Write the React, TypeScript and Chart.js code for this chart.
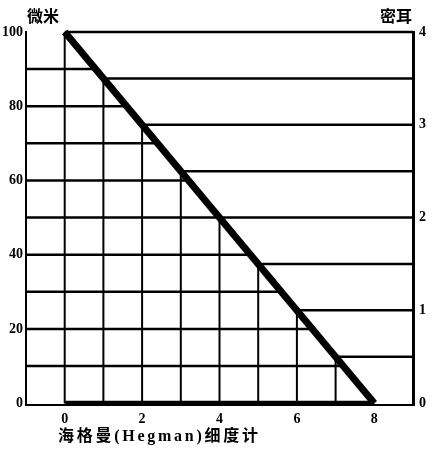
import React, { useEffect, useRef } from "react";
import { Chart, registerables } from "chart.js";

Chart.register(...registerables);

// Axis ticks
const hegmanTicks = [0, 2, 4, 6, 8];
const micronTicks = [0, 20, 40, 60, 80, 100];
const milTicks = [0, 1, 2, 3, 4];

// Gauge line: Hegman 0 -> 100 µm, Hegman 8 -> 0 µm
const gaugeHegman = [0, 8];
const gaugeMicron = [100, 0];

// Vertical stops (Hegman value and depth in µm at that value)
const hegmanStops = [0, 1, 2, 3, 4, 5, 6, 7];
const micronStops = [100, 87.5, 75, 62.5, 50, 37.5, 25, 12.5];

// Horizontal guide lines
const micronGrid = [90, 80, 70, 60, 50, 40, 30, 20, 10];
const milGrid = [4, 3.5, 3, 2.5, 2, 1.5, 1, 0.5];

const labels = {
  left: "微米",
  right: "密耳",
  x: "海格曼(Hegman)细度计",
};

const SERIF = "'Liberation Serif', 'DejaVu Serif', 'Noto Sans CJK SC', serif";

function hegmanAtMicron(v: number) {
  return 8 - v / 12.5;
}

export default function App() {
  const ref = useRef<HTMLCanvasElement | null>(null);

  useEffect(() => {
    if (!ref.current) return;
    const base = {
      borderColor: "#000",
      pointRadius: 0,
      showLine: true,
      fill: false,
      clip: false as any,
      tension: 0,
    };
    const datasets: any[] = [];
    datasets.push({
      ...base,
      data: gaugeHegman.map((h, i) => ({ x: h, y: gaugeMicron[i] })),
      borderWidth: 7,
      yAxisID: "y",
    });
    datasets.push({
      ...base,
      data: [
        { x: gaugeHegman[0], y: 0 },
        { x: gaugeHegman[1], y: 0 },
      ],
      borderWidth: 5,
      yAxisID: "y",
    });
    hegmanStops.forEach((h, i) => {
      datasets.push({
        ...base,
        data: [
          { x: h, y: 0 },
          { x: h, y: micronStops[i] },
        ],
        borderWidth: 2,
        yAxisID: "y",
      });
    });
    micronGrid.forEach((v) => {
      datasets.push({
        ...base,
        data: [
          { x: -1, y: v },
          { x: hegmanAtMicron(v), y: v },
        ],
        borderWidth: 2.5,
        yAxisID: "y",
      });
    });
    milGrid.forEach((m) => {
      datasets.push({
        ...base,
        data: [
          { x: 8 - 2 * m, y: m },
          { x: 9, y: m },
        ],
        borderWidth: 2.5,
        yAxisID: "y1",
      });
    });

    const textPlugin = {
      id: "texts",
      afterDraw(chart: any) {
        const ctx = chart.ctx as CanvasRenderingContext2D;
        ctx.save();
        ctx.fillStyle = "#000";
        ctx.textBaseline = "middle";
        ctx.font = "bold 16px 'Noto Sans CJK SC', sans-serif";
        ctx.textAlign = "center";
        ctx.fillText(labels.left, 43, 16);
        ctx.fillText(labels.right, 396, 16);
        ctx.font = "bold 16px " + SERIF;
        ctx.textAlign = "left";
        const target = 200;
        const n = [...labels.x].length;
        const w = ctx.measureText(labels.x).width;
        const ls = Math.max(0, (target - w) / (n - 1));
        (ctx as any).letterSpacing = ls + "px";
        ctx.fillText(labels.x, 58, 437);
        ctx.restore();
      },
    };

    const tickFont = { family: SERIF, size: 14, weight: "bold" as const };
    const grid = { display: false, drawTicks: false };

    const chart = new Chart(ref.current, {
      type: "scatter",
      data: { datasets },
      plugins: [textPlugin],
      options: {
        animation: false,
        responsive: false,
        devicePixelRatio: 1,
        layout: { padding: { top: 32, left: 0, right: 0, bottom: 0 } },
        plugins: { legend: { display: false }, tooltip: { enabled: false } },
        scales: {
          x: {
            type: "linear",
            min: -1,
            max: 9,
            grid,
            border: { display: true, color: "#000", width: 2 },
            ticks: { color: "#000", font: tickFont, padding: 6, maxRotation: 0 },
            afterBuildTicks: (s: any) => {
              s.ticks = hegmanTicks.map((v) => ({ value: v }));
            },
            afterFit: (s: any) => {
              s.height = 45;
            },
          },
          y: {
            type: "linear",
            position: "left",
            min: -0.5,
            max: 100,
            grid,
            border: { display: true, color: "#000", width: 2 },
            ticks: { color: "#000", font: tickFont, padding: 3 },
            afterBuildTicks: (s: any) => {
              s.ticks = micronTicks.map((v) => ({ value: v }));
            },
            afterFit: (s: any) => {
              s.width = 26;
            },
          },
          y1: {
            type: "linear",
            position: "right",
            min: -0.02,
            max: 4,
            grid,
            border: { display: true, color: "#000", width: 3 },
            ticks: { color: "#000", font: tickFont, padding: 6 },
            afterBuildTicks: (s: any) => {
              s.ticks = milTicks.map((v) => ({ value: v }));
            },
            afterFit: (s: any) => {
              s.width = 22;
            },
          },
        },
      } as any,
    });
    return () => chart.destroy();
  }, []);

  return (
    <div style={{ position: "fixed", left: 0, top: 0, width: 435, height: 450, background: "#fff" }}>
      <canvas ref={ref} width={435} height={450} style={{ width: 435, height: 450, display: "block" }} />
    </div>
  );
}
